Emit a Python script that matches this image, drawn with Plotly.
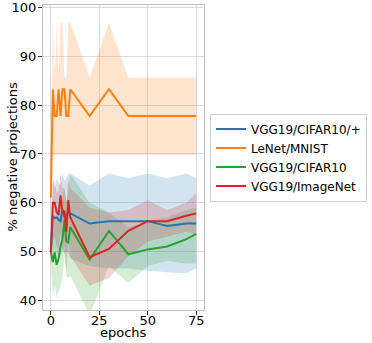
import plotly.graph_objects as go

epochs = [0, 1, 2, 3, 4, 5, 6, 7, 8, 9, 10, 20, 30, 40, 50, 60, 70, 75]

# VGG19/CIFAR10/+
cifar_aug = [50.0, 57.3, 56.8, 57.0, 56.5, 56.2, 58.5, 57.0, 57.5, 58.0, 57.8, 55.7, 56.2, 56.2, 56.2, 55.2, 55.7, 55.7]
cifar_aug_hi = [52.0, 64.0, 63.0, 65.0, 64.0, 63.5, 66.0, 64.5, 65.0, 66.0, 66.0, 63.5, 66.0, 65.0, 66.0, 65.0, 66.0, 65.0]
cifar_aug_lo = [48.0, 50.5, 50.0, 49.5, 49.0, 49.0, 50.0, 49.5, 50.0, 49.5, 48.5, 47.0, 46.5, 46.5, 46.0, 45.7, 45.5, 46.5]

# LeNet/MNIST
lenet = [61.0, 83.3, 77.8, 77.8, 83.3, 77.8, 83.3, 83.3, 77.8, 77.8, 83.3, 77.8, 83.3, 77.8, 77.8, 77.8, 77.8, 77.8]
lenet_hi = [64.0, 97.0, 85.7, 97.0, 85.7, 97.0, 97.0, 85.7, 85.7, 97.0, 97.0, 85.7, 97.0, 85.7, 85.7, 85.7, 85.7, 85.7]
lenet_lo = [58.0, 69.8, 69.8, 69.8, 69.8, 69.8, 69.8, 69.8, 69.8, 69.8, 69.8, 69.8, 69.8, 69.8, 69.8, 69.8, 69.8, 69.8]

# VGG19/CIFAR10
cifar = [50.0, 47.8, 49.8, 47.2, 48.5, 51.0, 52.5, 56.5, 52.0, 51.8, 55.0, 48.3, 54.2, 49.4, 50.4, 51.0, 52.5, 53.6]
cifar_hi = [53.0, 55.0, 57.0, 56.0, 58.0, 60.0, 61.0, 63.0, 60.0, 62.0, 66.0, 60.0, 58.0, 55.0, 56.0, 57.0, 58.5, 59.0]
cifar_lo = [47.0, 41.0, 43.0, 40.5, 41.5, 43.0, 44.5, 49.0, 45.0, 44.5, 45.0, 37.0, 47.0, 43.5, 47.0, 48.0, 47.5, 47.5]

# VGG19/ImageNet
imagenet = [49.8, 60.0, 60.0, 58.0, 57.5, 61.5, 58.0, 58.3, 54.0, 60.5, 57.0, 48.8, 50.5, 54.2, 56.2, 56.2, 57.3, 57.8]
imagenet_hi = [52.0, 65.0, 64.0, 62.0, 62.5, 66.0, 63.0, 63.0, 60.0, 65.0, 63.0, 59.0, 58.0, 58.5, 60.5, 58.5, 60.0, 62.0]
imagenet_lo = [47.5, 52.0, 53.0, 51.0, 50.5, 54.0, 50.0, 51.0, 46.0, 52.0, 49.0, 43.0, 44.5, 49.0, 52.0, 53.0, 54.0, 53.5]

series = [
    ("VGG19/CIFAR10/+", cifar_aug, cifar_aug_hi, cifar_aug_lo, "#1f77b4", "rgba(31,119,180,0.2)"),
    ("LeNet/MNIST", lenet, lenet_hi, lenet_lo, "#ff7f0e", "rgba(255,127,14,0.2)"),
    ("VGG19/CIFAR10", cifar, cifar_hi, cifar_lo, "#2ca02c", "rgba(44,160,44,0.2)"),
    ("VGG19/ImageNet", imagenet, imagenet_hi, imagenet_lo, "#d62728", "rgba(214,39,40,0.2)"),
]

fig = go.Figure()

# shaded bands first, lines on top
for name, mid, hi, lo, color, fill in series:
    fig.add_trace(go.Scatter(
        x=epochs + epochs[::-1], y=hi + lo[::-1],
        fill="toself", fillcolor=fill, line=dict(width=0),
        mode="lines", hoverinfo="skip", showlegend=False,
    ))

for name, mid, hi, lo, color, fill in series:
    fig.add_trace(go.Scatter(
        x=epochs, y=mid, mode="lines", name=name,
        line=dict(color=color, width=2),
    ))

axis_style = dict(
    showgrid=True, gridcolor="#dcdcdc", gridwidth=1,
    showline=True, linecolor="#bfbfbf", linewidth=1, mirror=True,
    ticks="outside", ticklen=4, tickcolor="#333333",
    tickfont=dict(size=13, color="black"),
    zeroline=False, automargin=False,
)

fig.update_layout(
    width=372, height=343,
    margin=dict(l=43, r=165, t=5, b=33),
    paper_bgcolor="white", plot_bgcolor="white",
    font=dict(family="DejaVu Sans", color="black"),
    xaxis=dict(axis_style, range=[-4.05, 79.05], tickvals=[0, 25, 50, 75],
               ticklabelstandoff=-6),
    yaxis=dict(axis_style, range=[37.95, 100.6], tickvals=[40, 50, 60, 70, 80, 90, 100],
               ticklabelstandoff=-1),
    annotations=[
        dict(text="epochs", xref="paper", yref="paper", x=0.5, y=0,
             xanchor="center", yanchor="middle", yshift=-22,
             showarrow=False, font=dict(size=13)),
        dict(text="% negative projections", xref="paper", yref="paper", x=0, y=0.5,
             xanchor="center", yanchor="middle", xshift=-31, textangle=-90,
             showarrow=False, font=dict(size=13)),
    ],
    legend=dict(
        x=1.037, y=0.5, xanchor="left", yanchor="middle",
        bordercolor="#d0d0d0", borderwidth=1, bgcolor="white",
        font=dict(size=12), tracegroupgap=0,
    ),
    showlegend=True,
)

# drop the browser's default 8px body margin so the figure sits at the page corner
fig.write_html("out.html", config={"displayModeBar": False},
               post_script="document.body.style.margin='0';")
